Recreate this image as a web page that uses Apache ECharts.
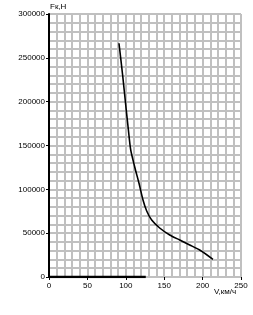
<!DOCTYPE html>
<html><head><meta charset="utf-8">
<script src="https://cdn.jsdelivr.net/npm/echarts@6/dist/echarts.min.js"></script>
<style>html,body{margin:0;padding:0;background:#fff}#c{width:253px;height:315px}</style>
</head><body><div id="c"></div>
<script>
const speedKmh = [91.1, 96.0, 99.9, 103.1, 106.4, 111.6, 117.2, 122.4, 127.2, 133.7, 144.1, 157.2, 170.2, 183.2, 196.2, 213.5];
const forceN = [266600, 229300, 196200, 170000, 144900, 125500, 106900, 87800, 75300, 65000, 55900, 47900, 42200, 36500, 30800, 20200];
const baseSpeed = [0, 126];
const baseForce = [0, 0];
const xTitle = 'V,км/ч';
const yTitle = 'Fк,Н';

const font = '"Liberation Sans Narrow","Liberation Sans",Arial,sans-serif';
const gridStyle = {color: '#c0c0c0', width: 2};
const chart = echarts.init(document.getElementById('c'), null, {renderer: 'canvas'});
chart.setOption({
  animation: false,
  grid: {left: 49, top: 14, width: 192, height: 263, containLabel: false},
  xAxis: {
    type: 'value', min: 0, max: 250, interval: 50,
    axisLine: {show: false},
    axisTick: {show: true, length: 3, lineStyle: {color: '#000', width: 1}},
    axisLabel: {color: '#000', fontSize: 8, fontFamily: font, margin: 5, formatter: v => String(v)},
    splitLine: {show: true, lineStyle: gridStyle},
    minorTick: {show: false, splitNumber: 5},
    minorSplitLine: {show: true, lineStyle: gridStyle}
  },
  yAxis: {
    type: 'value', min: 0, max: 300000, interval: 50000,
    axisLine: {show: true, onZero: false, lineStyle: {color: '#000', width: 2}},
    axisTick: {show: true, length: 3, lineStyle: {color: '#000', width: 1}},
    axisLabel: {color: '#000', fontSize: 8, fontFamily: font, margin: 4, formatter: v => String(v)},
    splitLine: {show: true, lineStyle: gridStyle},
    minorTick: {show: false, splitNumber: 5},
    minorSplitLine: {show: true, lineStyle: gridStyle}
  },
  series: [
    {type: 'line', data: speedKmh.map((v, i) => [v, forceN[i]]), showSymbol: false, symbol: 'none',
     smooth: 0.25, lineStyle: {color: '#000', width: 1.6}, z: 5},
    {type: 'line', data: baseSpeed.map((v, i) => [v, baseForce[i]]), showSymbol: false, symbol: 'none',
     lineStyle: {color: '#000', width: 2.5}, z: 6}
  ],
  graphic: [
    {type: 'text', left: 50, top: 3, style: {text: yTitle, fill: '#000', font: '8px ' + font}},
    {type: 'text', left: 214, top: 288, style: {text: xTitle, fill: '#000', font: '8px ' + font}}
  ]
});
</script></body></html>
